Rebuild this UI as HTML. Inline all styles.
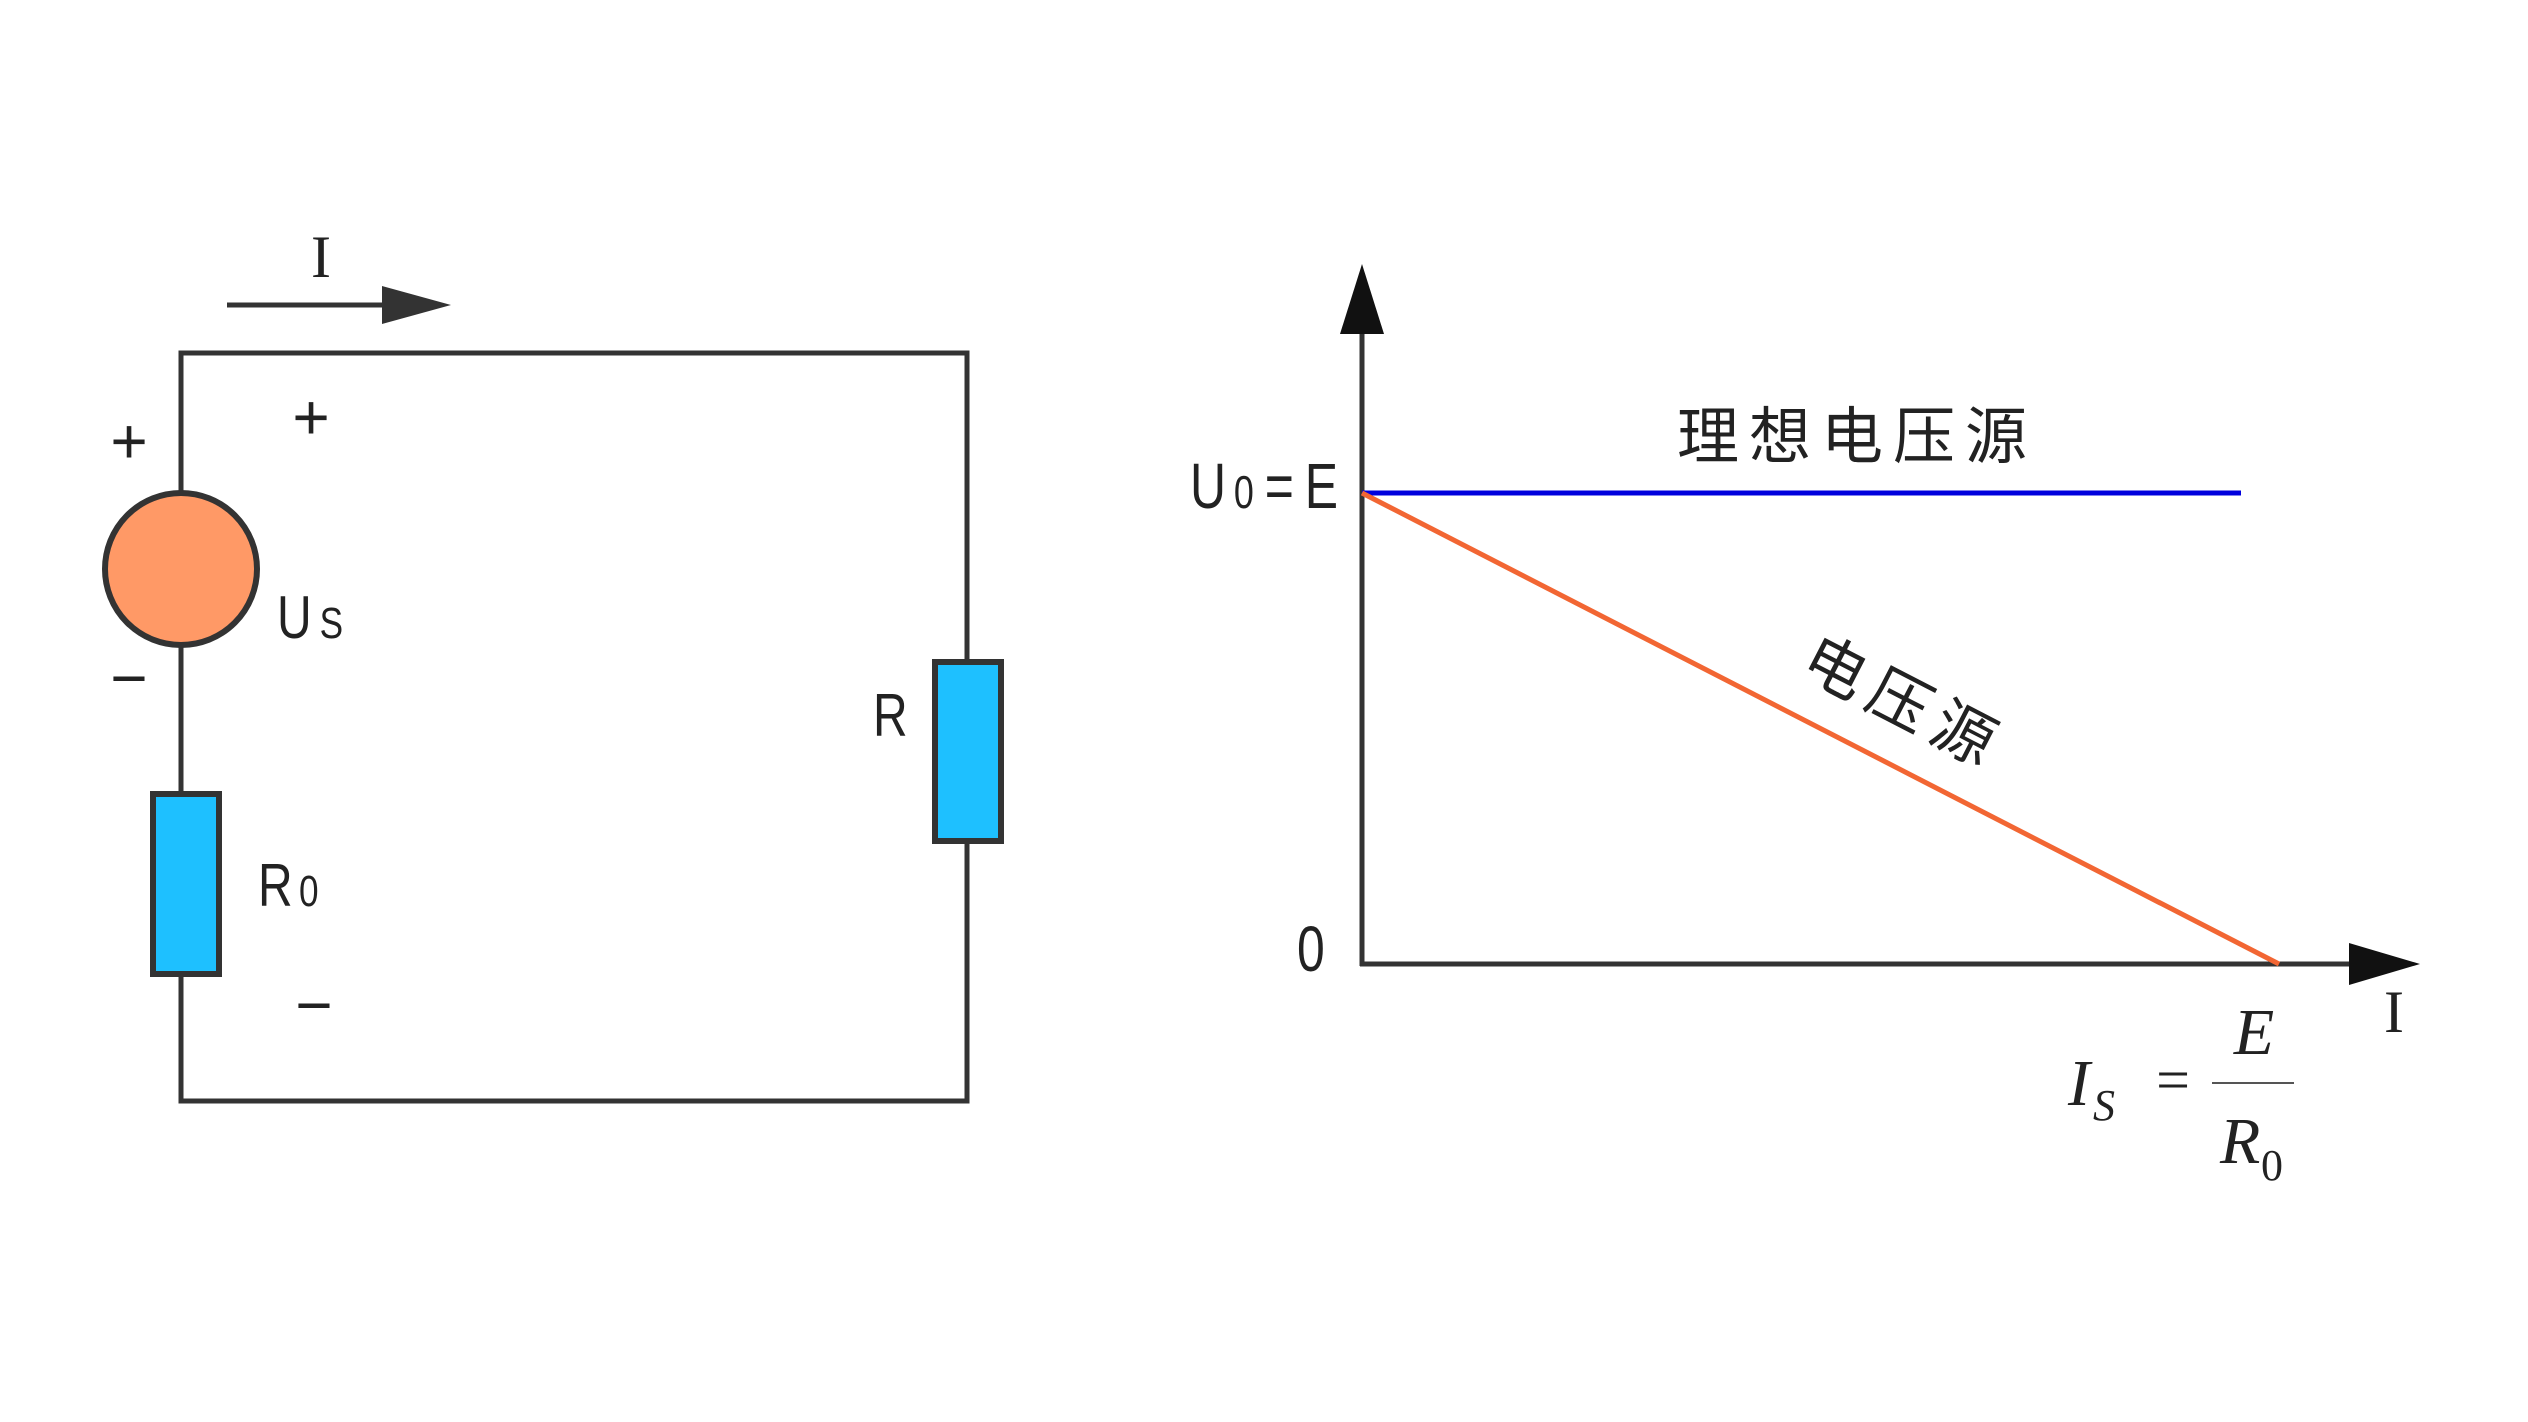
<!DOCTYPE html>
<html><head><meta charset="utf-8"><style>html,body{margin:0;padding:0;background:#fff}svg{display:block}</style></head><body>
<svg width="2528" height="1422" viewBox="0 0 2528 1422" xmlns="http://www.w3.org/2000/svg">
<g fill="none" stroke="#333" stroke-width="5">
<polyline points="181,493 181,353 967,353 967,661"/>
<line x1="181" y1="645" x2="181" y2="793"/>
<polyline points="181,974 181,1101 967,1101 967,841"/>
<line x1="227" y1="305" x2="390" y2="305"/>
</g>
<polygon points="382,286 451,305 382,324" fill="#333"/>
<circle cx="181" cy="569" r="76" fill="#FF9966" stroke="#333" stroke-width="6"/>
<rect x="153" y="794" width="66" height="180" fill="#1EC0FF" stroke="#333" stroke-width="6"/>
<rect x="935" y="662" width="66" height="179" fill="#1EC0FF" stroke="#333" stroke-width="6"/>
<g font-family="Liberation Sans, sans-serif" fill="#222">
<text x="321" y="277" font-family="Liberation Serif, serif" font-size="60" text-anchor="middle">I</text>
<text x="129" y="463" font-size="64" text-anchor="middle">+</text>
<text x="311" y="439" font-size="64" text-anchor="middle">+</text>
<text x="129" y="700" font-size="64" text-anchor="middle">−</text>
<text x="314" y="1027" font-size="64" text-anchor="middle">−</text>
<g transform="translate(277,638) scale(0.8,1)"><text font-size="60">U<tspan font-size="44" dx="10">S</tspan></text></g>
<g transform="translate(258,906) scale(0.8,1)"><text font-size="60">R<tspan font-size="44" dx="8">0</tspan></text></g>
<g transform="translate(873,736) scale(0.8,1)"><text font-size="60">R</text></g>
</g>
<line x1="1362" y1="320" x2="1362" y2="966" stroke="#333" stroke-width="5"/>
<line x1="1360" y1="964" x2="2360" y2="964" stroke="#333" stroke-width="5"/>
<polygon points="1362,264 1340,334 1384,334" fill="#111"/>
<polygon points="2420,964 2349,943 2349,985" fill="#111"/>
<line x1="1362" y1="493" x2="2241" y2="493" stroke="#0000DD" stroke-width="5"/>
<line x1="1362" y1="493" x2="2279" y2="964" stroke="#F26633" stroke-width="5"/>
<g font-family="Liberation Sans, 'Noto Sans CJK SC', sans-serif" fill="#222">
<g transform="translate(1190,508) scale(0.78,1)"><text font-size="64">U<tspan font-size="46" dx="10">0</tspan><tspan dx="14">=</tspan><tspan dx="14">E</tspan></text></g>
<g transform="translate(1297,971) scale(0.78,1)"><text font-size="64">0</text></g>
<text x="1857" y="458" font-size="62" text-anchor="middle" letter-spacing="10">理想电压源</text>
<text transform="translate(1894,722) rotate(27.3)" font-size="62" text-anchor="middle" letter-spacing="10">电压源</text>
</g>
<g font-family="Liberation Serif, serif" fill="#222" font-style="italic">
<text x="2394" y="1032" font-size="60" font-style="normal" text-anchor="middle">I</text>
<text x="2068" y="1105" font-size="66">I</text>
<text x="2093" y="1120" font-size="44">S</text>
<text x="2173" y="1100" font-size="60" font-style="normal" text-anchor="middle">=</text>
<line x1="2212" y1="1083" x2="2294" y2="1083" stroke="#555" stroke-width="2"/>
<text x="2254" y="1054" font-size="66" text-anchor="middle">E</text>
<text x="2220" y="1163" font-size="66">R</text>
<text x="2261" y="1180" font-size="44" font-style="normal">0</text>
</g>
</svg>
</body></html>
